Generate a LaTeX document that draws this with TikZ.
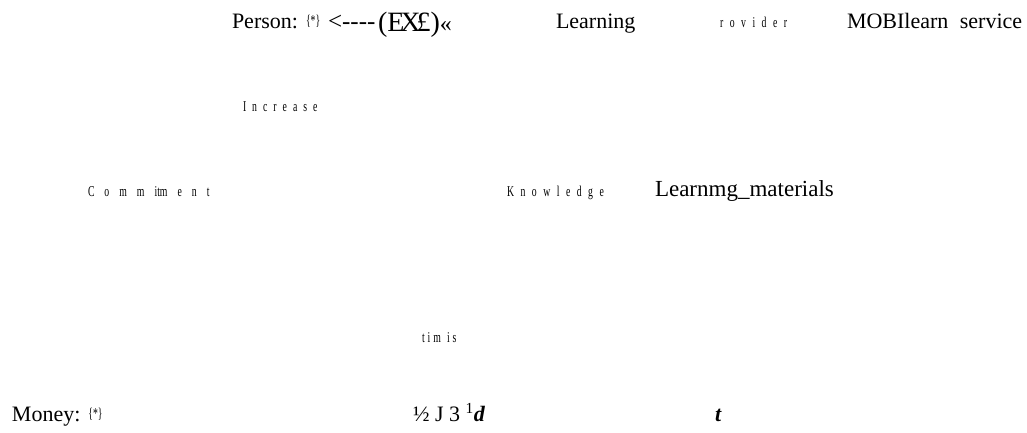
\documentclass[tikz,border=0pt]{standalone}
\usepackage{fontspec}
\setmainfont{Liberation Serif}
\newfontfamily\narrowfont[FakeStretch=0.65]{Liberation Serif}
\newcommand\spacedfont[1]{\narrowfont\fontsize{15}{15}\selectfont\setlength{\spaceskip}{#1}}
\usetikzlibrary{positioning}

\begin{document}
\begin{tikzpicture}[x=1pt, y=-1pt, inner sep=0pt, outer sep=0pt]
    \tikzset{
      big/.style={font=\fontsize{22}{22}\selectfont, anchor=base west},
      huge/.style={font=\fontsize{28}{28}\selectfont, anchor=base west},
      spc/.style={font={\spacedfont{6.5pt}}, anchor=base west},
      mult/.style={font=\narrowfont\fontsize{15}{15}\selectfont, yshift=3pt},
    }
    \useasboundingbox (0,0) rectangle (1027,432);

    % top row
    \node[big] (person) at (232,28) {Person:};
    \node[mult, base right=8pt of person] (pmult) {\{*\}};
    \node[big, font=\fontsize{25}{25}\selectfont] (arrow) at (328,29) {<{-}{-}{-}{-}};
    \node[huge] (exch) at (378,31) {(E\kern-4pt X\kern-4pt £)\fontsize{24}{24}\selectfont«};
    \node[big] (learning) at (556,28) {Learning};
    \node[spc] (provider) at (720,27) {r o v i d e r};
    \node[big] (service) at (847,28) {MOBIlearn\hspace{6pt} service};

    % middle
    \node[spc, font={\spacedfont{6pt}}] (increase) at (243,111) {I n c r e a s e};
    \node[spc, font={\spacedfont{10pt}}] (commit) at (88,196) {C o m m itm e n t};
    \node[spc] (knowledge) at (507,196) {K n o w l e d g e};
    \node[big, font=\fontsize{23}{23}\selectfont] (materials) at (655,196) {Learnmg\_materials};
    \node[spc, font={\spacedfont{3pt}}] (time) at (422,342) {t i m\ \ i s};

    % bottom row
    \node[big] (money) at (12,421) {Money:};
    \node[mult, base right=8pt of money] (mmult) {\{*\}};
    \node[big] (codes) at (413,421) {½ J 3 \textsuperscript{1}\textbf{\textit{d}}};
    \node[big] (tee) at (715,421) {\textbf{\textit{t}}};
\end{tikzpicture}
\end{document}
